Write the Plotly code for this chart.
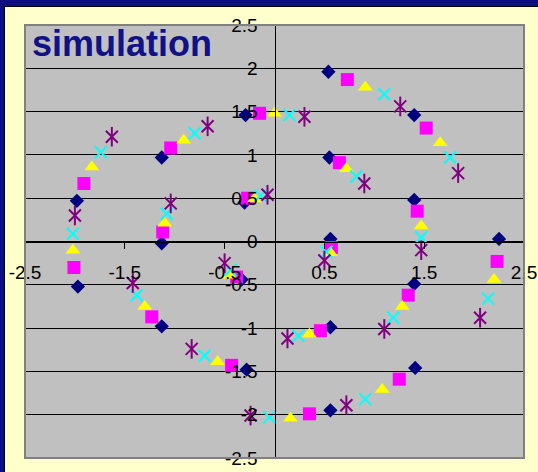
import plotly.graph_objects as go

# ---------------- data ----------------
diamond_x = [-1.98, -1.97, -1.13, -1.13, -1.13, -0.29, -0.30, -0.33, -0.28, 0.54, 0.55, 0.56, 0.56, 0.56, 1.40, 1.40, 1.40, 1.41, 2.25]
diamond_y = [0.47, -0.52, 0.97, -0.02, -0.98, 1.46, 0.45, -0.44, -1.48, 1.96, 0.97, 0.03, -0.99, -1.95, 1.46, 0.48, -0.49, -1.46, 0.03]

square_x = [-1.91, -2.01, -1.04, -1.12, -1.23, -0.15, -0.27, -0.38, -0.43, 0.73, 0.65, 0.57, 0.46, 0.35, 1.52, 1.43, 1.34, 1.25, 2.23]
square_y = [0.67, -0.30, 1.08, 0.11, -0.87, 1.48, 0.50, -0.41, -1.43, 1.87, 0.91, -0.07, -1.03, -1.99, 1.31, 0.35, -0.62, -1.59, -0.23]

triangle_x = [-1.83, -2.02, -0.91, -1.10, -1.30, 0.00, -0.20, -0.45, -0.57, 0.91, 0.72, 0.56, 0.35, 0.16, 1.66, 1.47, 1.28, 1.08, 2.20]
triangle_y = [0.86, -0.10, 1.17, 0.21, -0.75, 1.48, 0.49, -0.39, -1.39, 1.78, 0.84, -0.13, -1.07, -2.04, 1.14, 0.18, -0.75, -1.71, -0.44]

cross_x = [-1.74, -2.02, -0.80, -1.08, -1.38, 0.15, -0.14, -0.44, -0.70, 1.10, 0.82, 0.52, 0.24, -0.05, 1.76, 1.47, 1.19, 0.91, 2.14]
cross_y = [1.03, 0.09, 1.25, 0.32, -0.62, 1.46, 0.53, -0.33, -1.32, 1.70, 0.75, -0.12, -1.09, -2.03, 0.97, 0.05, -0.88, -1.82, -0.66]

star_x = [-1.63, -2.00, -0.67, -1.04, -1.42, 0.30, -0.07, -0.50, -0.83, 1.26, 0.90, 0.50, 0.13, -0.24, 1.84, 1.47, 1.10, 0.72, 2.06]
star_y = [1.21, 0.30, 1.33, 0.44, -0.48, 1.44, 0.54, -0.25, -1.24, 1.56, 0.67, -0.22, -1.12, -2.01, 0.79, -0.10, -1.01, -1.89, -0.88]

x_tickvals = [-2.5, -1.5, -0.5, 0.5, 1.5, 2.5]
x_ticktext = ["-2.5", "-1.5", "-0.5", "0.5", "1.5", "2.5"]
y_tickvals = [2.5, 2.0, 1.5, 1.0, 0.5, 0.0, -0.5, -1.0, -1.5, -2.0, -2.5]
y_ticktext = ["2.5", "2", "1.5", "1", "0.5", "0", "-0.5", "-1", "-1.5", "-2", "-2.5"]

title_text = "simulation"

# ---------------- layout geometry ----------------
W, H = 538, 472
L, R, T, B = 25, 14, 25, 14
PW, PH = W - L - R, H - T - B


def px(xp):
    return (xp - L) / PW


def py(yp):
    return (H - B - yp) / PH


NAVY = "#0E0E82"
fig = go.Figure()

fig.add_trace(go.Scatter(x=diamond_x, y=diamond_y, mode="markers",
                         marker=dict(symbol="diamond", size=11, color="#000080", line=dict(width=0))))
fig.add_trace(go.Scatter(x=square_x, y=square_y, mode="markers",
                         marker=dict(symbol="square", size=13, color="#FF00FF", line=dict(width=0))))
fig.add_trace(go.Scatter(x=triangle_x, y=triangle_y, mode="markers",
                         marker=dict(symbol="triangle-up", size=13, color="#FFFF00", line=dict(width=0))))
fig.add_trace(go.Scatter(x=cross_x, y=cross_y, mode="markers",
                         marker=dict(symbol="x-thin-open", size=12, color="#00FFFF", line=dict(width=2, color="#00FFFF"))))
fig.add_trace(go.Scatter(x=star_x, y=star_y, mode="markers",
                         marker=dict(symbol="x-thin-open", size=12, color="#800080", line=dict(width=2, color="#800080"))))
fig.add_trace(go.Scatter(x=star_x, y=star_y, mode="markers",
                         marker=dict(symbol="line-ns-open", size=14, color="#800080", line=dict(width=2, color="#800080"))))

axis_font = dict(family="Liberation Sans, Arial, sans-serif", size=19, color="#000000")

fig.update_layout(
    width=W, height=H,
    margin=dict(l=L, r=R, t=T, b=B, pad=0, autoexpand=False),
    paper_bgcolor="#FFFFCC",
    plot_bgcolor="#C0C0C0",
    showlegend=False,
    xaxis=dict(range=[-2.5, 2.5], tickmode="array", tickvals=x_tickvals, ticktext=x_ticktext,
               showgrid=False, zeroline=False, showline=True, linecolor="#000000", linewidth=1,
               anchor="free", position=0.5, ticks="outside", ticklen=6, tickcolor="#000000",
               tickfont=axis_font, ticklabelstandoff=8, automargin=False),
    yaxis=dict(range=[-2.5, 2.5], tickmode="array", tickvals=y_tickvals, ticktext=y_ticktext,
               showgrid=True, gridcolor="#000000", gridwidth=1, zeroline=False,
               showline=True, linecolor="#000000", linewidth=1,
               anchor="free", position=0.5, ticks="outside", ticklen=7, tickcolor="#000000",
               tickfont=axis_font, ticklabelstandoff=6, automargin=False),
    shapes=[
        # outer navy frame (top and left)
        dict(type="rect", xref="paper", yref="paper", x0=px(0), x1=px(W), y0=py(6), y1=py(0),
             fillcolor=NAVY, line=dict(width=0), layer="above"),
        dict(type="rect", xref="paper", yref="paper", x0=px(0), x1=px(4), y0=py(H), y1=py(0),
             fillcolor=NAVY, line=dict(width=0), layer="above"),
        dict(type="line", xref="paper", yref="paper", x0=px(4), x1=px(W), y0=py(6.5), y1=py(6.5),
             line=dict(color="#000000", width=1), layer="above"),
        dict(type="line", xref="paper", yref="paper", x0=px(4.5), x1=px(4.5), y0=py(H), y1=py(6),
             line=dict(color="#000000", width=1), layer="above"),
        # plot area border
        dict(type="rect", xref="paper", yref="paper", x0=0, x1=1, y0=0, y1=1,
             line=dict(color="#808080", width=2), layer="above"),
    ],
    annotations=[
        dict(text=title_text, xref="paper", yref="paper", x=px(30), y=py(21),
             xanchor="left", yanchor="top", showarrow=False,
             font=dict(family="Liberation Sans, Arial, sans-serif", size=36, color="#111188", weight="bold")),
    ],
)

fig.write_html("out.html")
